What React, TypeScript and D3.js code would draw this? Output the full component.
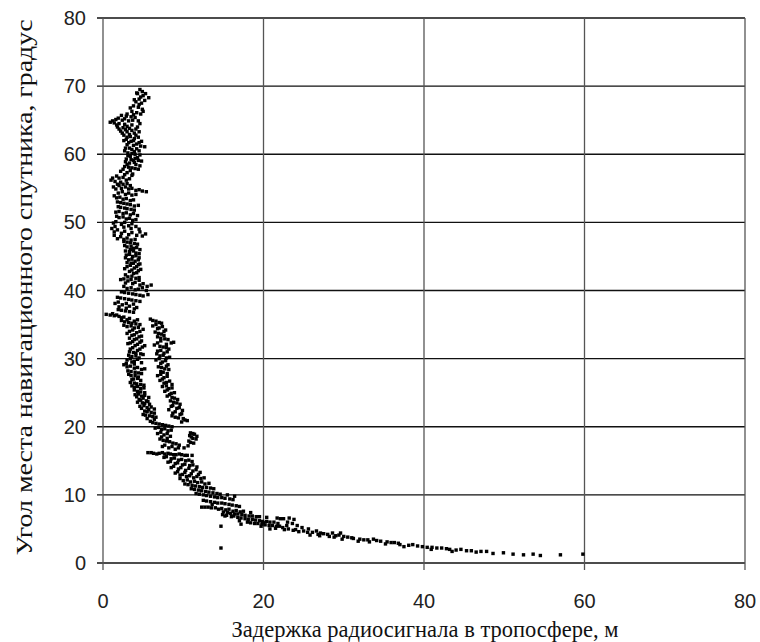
import React from "react";
import { scaleLinear } from "d3";

// Задержка (м), угол места (градус) — точки
const passHigh: [number, number][] = [
  [4.6, 69.5], [4.9, 69.2], [4.3, 68.9], [5.0, 68.6], [5.7, 68.3], [4.5, 68.1], [4.1, 67.7], [4.8, 67.5],
  [3.8, 67.1], [4.4, 66.9], [4.9, 66.6], [3.6, 66.3], [4.2, 66.1], [2.3, 65.7], [2.9, 65.6], [3.5, 65.5],
  [4.0, 65.4], [1.6, 65.1], [2.4, 65.0], [3.2, 64.9], [4.4, 64.9], [0.9, 64.7], [1.4, 64.6], [2.0, 64.5],
  [2.7, 64.4], [3.6, 64.3], [4.6, 64.5], [1.8, 64.0], [2.5, 63.9], [3.3, 63.8], [4.1, 63.7], [2.2, 63.4],
  [3.0, 63.3], [3.9, 63.1], [2.6, 62.8], [3.4, 62.6], [4.4, 62.5], [2.9, 62.2], [3.8, 62.0], [4.8, 61.9],
  [3.2, 61.7], [4.2, 61.5], [5.2, 61.1], [2.8, 60.9], [3.6, 60.7], [4.5, 60.5], [3.1, 60.2], [4.0, 60.0],
  [3.4, 59.7], [4.3, 59.5], [2.9, 59.3], [3.8, 59.1], [4.8, 59.0], [3.3, 58.7], [4.1, 58.5], [2.7, 58.2],
  [3.6, 58.0], [4.4, 57.8], [2.2, 57.5], [3.0, 57.3], [3.7, 57.1], [1.7, 56.8], [2.5, 56.6], [3.3, 56.4],
  [1.0, 56.2], [1.5, 56.0], [2.2, 55.9], [3.0, 55.7], [2.0, 55.4], [2.8, 55.2], [3.6, 55.0], [1.6, 54.9],
  [4.5, 54.8], [5.4, 54.5], [2.4, 54.5], [3.2, 54.3], [4.1, 54.1], [1.4, 53.9], [2.1, 53.7], [2.9, 53.5],
  [3.8, 53.3], [1.8, 53.0], [2.6, 52.8], [3.4, 52.6], [4.4, 52.5], [2.2, 52.2], [3.0, 52.0], [3.9, 51.8],
  [1.6, 51.5], [2.5, 51.3], [3.4, 51.1], [4.3, 51.0], [2.0, 50.7], [2.9, 50.5], [3.7, 50.3], [1.3, 49.9],
  [2.3, 49.7], [3.2, 49.5], [4.1, 49.4], [1.1, 49.1], [1.8, 48.9], [2.7, 48.7], [3.6, 48.5], [4.6, 48.6],
  [5.3, 48.3], [1.4, 48.1], [2.2, 47.9], [3.0, 47.7], [4.0, 47.5], [2.6, 47.2], [3.4, 47.0], [4.3, 46.8],
  [3.0, 46.4], [3.8, 46.2], [4.6, 46.0], [3.3, 45.7], [4.1, 45.5], [2.9, 45.2], [3.7, 45.0], [4.5, 44.8],
  [3.2, 44.5], [4.0, 44.3], [3.5, 44.0], [4.4, 43.8], [3.0, 43.5], [3.9, 43.3], [4.7, 43.1], [3.3, 42.8],
  [4.2, 42.6], [2.8, 42.3], [3.6, 42.1], [4.5, 41.9], [2.2, 41.6], [3.1, 41.4], [4.0, 41.2], [5.0, 41.0],
  [6.0, 40.8], [2.6, 40.6], [3.5, 40.4], [4.4, 40.2], [5.4, 40.0],
];

const passHigh2: [number, number][] = [
  [4.2, 69.0], [5.3, 68.9], [4.7, 68.4], [3.9, 68.0], [5.2, 67.9], [4.5, 67.3], [3.4, 66.8], [5.0, 66.3],
  [3.0, 65.9], [3.8, 65.8], [4.7, 65.9], [1.9, 65.3], [2.7, 65.2], [3.7, 65.0], [1.2, 64.9], [1.7, 64.3],
  [3.0, 64.1], [4.3, 64.0], [2.0, 63.7], [2.8, 63.6], [3.6, 63.5], [4.5, 63.3], [2.4, 63.1], [3.3, 62.9],
  [4.1, 62.8], [3.0, 62.5], [3.9, 62.3], [2.6, 62.0], [3.5, 61.9], [4.5, 61.7], [3.0, 61.4], [3.8, 61.3],
  [4.7, 61.2], [3.3, 60.9], [4.2, 60.8], [2.7, 60.5], [3.9, 60.4], [3.6, 60.1], [4.6, 59.9], [3.1, 59.8],
  [4.0, 59.4], [3.5, 59.2], [4.4, 59.1], [2.8, 58.9], [3.9, 58.8], [3.0, 58.5], [4.6, 58.3], [3.2, 58.1],
  [4.0, 57.9], [2.5, 57.8], [3.4, 57.6], [2.7, 57.0], [3.6, 56.9], [2.0, 56.5], [2.9, 56.2], [1.2, 56.5],
  [1.8, 55.6], [2.5, 55.6], [3.4, 55.4], [1.3, 55.2], [2.3, 55.0], [3.2, 54.9], [4.1, 54.7], [4.9, 54.6],
  [1.9, 54.3], [2.8, 54.1], [3.6, 54.0], [1.7, 53.6], [2.5, 53.4], [3.4, 53.2], [2.2, 52.9], [3.0, 52.7],
  [3.9, 52.4], [1.9, 52.3], [2.7, 52.1], [3.5, 51.9], [2.0, 51.6], [2.9, 51.4], [3.8, 51.3], [1.7, 50.9],
  [2.5, 50.8], [3.3, 50.6], [4.1, 50.4], [1.6, 50.1], [2.7, 50.0], [3.6, 49.8], [1.5, 49.4], [2.6, 49.3],
  [3.5, 49.1], [4.5, 49.0], [1.4, 48.6], [2.3, 48.4], [3.2, 48.2], [4.2, 48.1], [4.9, 48.0], [1.8, 47.6],
  [2.6, 47.5], [3.5, 47.4], [3.0, 47.1], [3.9, 46.9], [2.7, 46.6], [3.5, 46.5], [4.2, 46.3], [3.4, 46.0],
  [2.8, 45.8], [3.8, 45.8], [4.5, 45.4], [3.3, 45.3], [4.1, 45.1], [2.8, 44.8], [3.6, 44.6], [4.4, 44.5],
  [3.0, 44.1], [3.8, 44.0], [4.6, 43.9], [3.4, 43.7], [4.2, 43.5], [2.7, 43.2], [3.6, 43.0], [4.4, 42.9],
  [3.8, 42.5], [3.1, 42.0], [4.1, 41.8], [2.6, 41.7], [3.5, 41.6], [4.5, 41.5], [2.8, 41.1], [3.7, 41.0],
  [4.6, 40.8], [5.5, 40.6], [3.0, 40.3], [4.0, 40.1], [4.9, 40.4],
];

const passLeft: [number, number][] = [
  [2.3, 39.8], [3.2, 39.6], [4.1, 39.4], [5.0, 39.2], [1.8, 39.0], [2.7, 38.8], [3.6, 38.6], [4.6, 38.4],
  [1.5, 38.1], [2.4, 37.9], [3.3, 37.7], [4.2, 37.5], [1.9, 37.2], [2.8, 37.0], [3.8, 36.8], [0.4, 36.5],
  [0.9, 36.4], [1.4, 36.3], [2.0, 36.2], [2.6, 36.1], [3.3, 35.9], [4.3, 35.7], [2.7, 35.4], [3.6, 35.2],
  [4.6, 35.0], [3.0, 34.7], [3.9, 34.5], [5.0, 34.3], [3.3, 34.0], [4.2, 33.8], [3.6, 33.4], [4.5, 33.2],
  [3.9, 32.8], [4.8, 32.6], [3.4, 32.3], [4.3, 32.1], [5.2, 31.9], [3.7, 31.6], [4.6, 31.4], [3.3, 31.0],
  [4.1, 30.8], [5.0, 30.6], [3.6, 30.3], [4.5, 30.1], [3.0, 29.8], [3.9, 29.6], [4.8, 29.4], [2.6, 29.1],
  [3.4, 28.9], [4.3, 28.7], [5.2, 28.5], [3.1, 28.2], [4.0, 28.0], [4.8, 27.8], [3.5, 27.5], [4.4, 27.3],
  [3.8, 27.0], [4.7, 26.8], [3.4, 26.5], [4.2, 26.3], [5.1, 26.1], [3.9, 25.8], [4.7, 25.6], [4.3, 25.2],
  [5.2, 25.0], [4.0, 24.7], [4.8, 24.5], [5.7, 24.3], [4.5, 24.0], [5.4, 23.8], [4.9, 23.5], [5.8, 23.3],
  [4.6, 23.0], [5.5, 22.8], [6.4, 22.6], [5.2, 22.3], [6.0, 22.1], [5.0, 21.8], [5.8, 21.6], [6.6, 21.4],
];

const passLeft2: [number, number][] = [
  [2.7, 39.7], [3.7, 39.5], [4.6, 39.3], [5.6, 39.4], [2.2, 38.9], [3.2, 38.7], [4.1, 38.5], [1.9, 38.3],
  [2.9, 38.1], [3.8, 38.0], [2.0, 37.6], [2.9, 37.4], [3.9, 37.3], [2.3, 37.1], [3.3, 36.9], [1.2, 36.6],
  [1.7, 36.4], [2.3, 36.0], [3.0, 35.7], [3.9, 35.5], [2.3, 35.6], [3.2, 35.3], [4.1, 35.1], [2.6, 34.9],
  [3.5, 34.8], [4.4, 34.6], [3.7, 34.2], [4.6, 34.0], [3.0, 33.7], [3.9, 33.5], [4.8, 33.3], [3.3, 33.0],
  [4.2, 32.9], [3.7, 32.5], [4.6, 32.4], [3.1, 32.2], [4.0, 31.9], [4.9, 31.7], [3.4, 31.4], [4.3, 31.2],
  [3.8, 30.9], [4.7, 30.7], [3.2, 30.5], [4.1, 30.4], [3.4, 30.0], [4.3, 29.9], [3.6, 29.5], [2.9, 29.3],
  [3.9, 29.2], [3.0, 28.8], [3.9, 28.6], [4.8, 28.4], [3.5, 28.1], [4.4, 27.9], [3.2, 27.7], [4.0, 27.5],
  [4.3, 27.1], [3.6, 26.9], [3.9, 26.4], [4.7, 26.2], [3.6, 26.0], [4.3, 25.9], [5.1, 25.7], [3.9, 25.4],
  [4.7, 25.1], [4.4, 24.8], [5.2, 24.6], [4.2, 24.4], [5.0, 24.2], [4.7, 23.9], [5.6, 23.7], [4.3, 23.6],
  [5.2, 23.4], [5.1, 23.1], [6.0, 22.9], [4.8, 22.7], [5.7, 22.5], [5.5, 22.2], [6.4, 22.0], [5.3, 21.7],
  [6.2, 21.5], [5.5, 21.2], [6.4, 21.1],
];

const passRight: [number, number][] = [
  [5.9, 35.8], [6.6, 35.5], [7.3, 35.2], [6.2, 34.8], [7.0, 34.5], [7.8, 34.2], [6.5, 33.9], [7.3, 33.6],
  [6.8, 33.2], [7.7, 32.9], [8.5, 32.3], [7.2, 32.6], [6.4, 32.0], [7.5, 31.7], [8.2, 31.4], [6.8, 31.1],
  [7.6, 30.8], [7.1, 30.4], [7.9, 30.1], [6.6, 29.8], [7.4, 29.5], [8.1, 29.1], [6.9, 28.8], [7.7, 28.5],
  [7.2, 28.1], [8.0, 27.8], [6.8, 27.5], [7.6, 27.2], [7.1, 26.8], [7.9, 26.5], [8.6, 26.2], [7.4, 25.9],
  [8.2, 25.6], [7.7, 25.2], [8.5, 24.9], [8.0, 24.5], [8.9, 24.2], [8.4, 23.8], [9.2, 23.5], [8.7, 23.1],
  [9.5, 22.8], [8.2, 22.5], [9.0, 22.2], [9.8, 21.9], [8.6, 21.6], [9.4, 21.3], [10.2, 21.0], [9.8, 20.7],
];

const passRight2: [number, number][] = [
  [6.2, 35.6], [7.0, 35.3], [6.6, 35.0], [7.4, 34.7], [6.8, 34.4], [7.6, 34.0], [6.9, 33.7], [7.6, 33.4],
  [7.2, 33.0], [8.1, 32.8], [8.8, 32.4], [6.8, 32.3], [7.9, 32.1], [7.1, 31.8], [7.9, 31.6], [7.2, 31.2],
  [8.0, 31.0], [6.7, 30.7], [7.5, 30.5], [8.3, 30.2], [7.0, 30.0], [7.8, 29.7], [7.2, 29.3], [7.9, 28.9],
  [7.3, 28.7], [8.2, 28.4], [7.5, 28.0], [7.2, 27.7], [8.0, 27.4], [7.4, 27.0], [8.3, 26.7], [7.6, 26.4],
  [7.9, 26.0], [8.6, 25.7], [8.0, 25.4], [8.9, 25.0], [8.3, 24.7], [8.6, 24.3], [9.3, 24.0], [8.8, 23.6],
  [9.6, 23.3], [8.5, 23.0], [9.2, 22.7], [9.9, 22.4], [8.7, 22.0], [9.6, 21.8], [9.0, 21.4], [10.0, 21.2],
  [10.5, 20.9],
];

const passMid: [number, number][] = [
  [6.2, 20.6], [7.0, 20.4], [7.8, 20.2], [8.6, 20.0], [6.5, 19.8], [7.3, 19.6], [8.1, 19.4], [6.8, 19.0],
  [7.6, 18.8], [8.4, 18.6], [10.9, 19.1], [11.4, 18.9], [11.0, 18.5], [11.6, 18.2], [10.7, 17.9], [11.3, 17.6],
  [7.1, 18.2], [7.9, 17.9], [8.7, 17.6], [9.5, 17.3], [7.4, 17.1], [8.2, 16.9], [9.0, 16.7], [10.1, 16.9],
  [10.6, 17.2], [5.6, 16.2], [6.3, 16.1], [7.0, 16.1], [7.7, 16.0], [8.4, 16.0], [9.1, 15.9], [9.8, 15.9],
  [10.5, 15.8], [11.1, 15.8], [7.6, 15.5], [8.5, 15.3], [9.4, 15.1], [10.3, 15.0], [11.1, 14.9], [8.1, 14.8],
  [9.0, 14.6], [9.9, 14.4], [10.8, 14.3], [11.7, 14.1], [8.5, 14.0], [9.4, 13.8], [10.3, 13.6], [11.2, 13.5],
  [12.1, 13.3], [9.0, 13.2], [9.9, 13.0], [10.8, 12.8], [11.7, 12.7], [12.6, 12.5], [9.6, 12.4], [10.5, 12.2],
  [11.4, 12.0], [12.3, 11.9], [13.2, 11.7], [10.2, 11.6], [11.1, 11.4], [12.0, 11.2], [12.9, 11.1], [13.8, 10.9],
  [11.0, 10.9], [11.9, 10.7], [12.8, 10.5], [13.7, 10.3], [14.6, 10.1], [11.6, 10.2], [12.5, 10.0], [13.4, 9.8],
  [14.3, 9.6], [15.2, 9.5], [16.2, 9.3], [15.5, 10.0], [16.4, 9.8],
];

const passMid2: [number, number][] = [
  [5.9, 20.8], [6.6, 20.5], [7.4, 20.3], [8.2, 20.1], [6.9, 19.9], [7.7, 19.7], [8.5, 19.5], [7.2, 19.2],
  [8.0, 19.0], [7.3, 18.5], [8.0, 18.3], [11.2, 19.0], [10.8, 18.7], [11.7, 18.6], [11.2, 18.3], [10.9, 17.7],
  [7.5, 18.0], [8.3, 17.8], [9.1, 17.5], [7.7, 17.3], [8.6, 17.1], [9.4, 16.9], [6.0, 16.2], [6.7, 16.0],
  [7.4, 16.2], [8.1, 16.1], [8.8, 15.9], [9.5, 16.0], [10.2, 15.8], [7.9, 15.6], [8.9, 15.4], [9.8, 15.2],
  [10.7, 15.1], [8.4, 14.9], [9.3, 14.7], [10.2, 14.5], [11.2, 14.4], [8.8, 14.2], [9.7, 14.0], [10.7, 13.9],
  [11.6, 13.7], [9.3, 13.4], [10.2, 13.3], [11.0, 13.1], [11.9, 13.0], [9.6, 12.9], [10.4, 12.7], [11.3, 12.5],
  [12.2, 12.4], [10.0, 12.1], [10.9, 11.9], [11.8, 11.8], [12.7, 11.6], [10.6, 11.5], [11.5, 11.3], [12.4, 11.1],
  [13.4, 11.0], [11.4, 10.8], [12.3, 10.6], [13.2, 10.4], [14.2, 10.2], [12.0, 10.1], [12.9, 9.9], [13.9, 9.7],
  [14.8, 9.6], [15.8, 9.4],
];

const passLow: [number, number][] = [
  [12.5, 9.2], [13.4, 9.0], [14.3, 8.8], [15.2, 8.7], [16.1, 8.5], [17.0, 8.3], [12.3, 8.2], [13.1, 8.2],
  [14.0, 8.1], [13.6, 8.6], [14.8, 8.0], [15.7, 7.9], [16.6, 7.7], [17.5, 7.6], [18.4, 7.4], [15.0, 7.5],
  [15.9, 7.3], [16.8, 7.2], [17.7, 7.0], [18.6, 6.9], [19.5, 6.8], [20.4, 6.7], [17.2, 6.6], [18.1, 6.4],
  [19.0, 6.3], [19.9, 6.1], [20.8, 6.0], [21.7, 6.6], [22.5, 6.5], [23.2, 6.6], [23.8, 6.4], [18.4, 5.9],
  [19.3, 5.8], [20.2, 5.6], [21.1, 5.5], [22.0, 5.4], [22.9, 5.5], [21.5, 5.1], [22.6, 4.9], [23.7, 4.8],
  [24.8, 5.2], [24.4, 4.6], [25.5, 4.5], [26.6, 4.7], [27.5, 4.3], [28.6, 4.4], [25.8, 4.1], [27.0, 4.0],
  [28.2, 3.9], [29.4, 4.1], [30.5, 3.8], [29.8, 3.5], [31.2, 3.6], [32.5, 3.4], [33.7, 3.5], [31.8, 3.2],
  [33.2, 3.1], [34.6, 3.2], [35.9, 3.0], [35.2, 2.8], [36.8, 2.9], [38.1, 2.6], [37.5, 2.4], [39.2, 2.5],
  [40.4, 2.3], [41.6, 2.2], [40.9, 2.0], [42.8, 2.1], [44.0, 1.9], [45.3, 1.8], [43.5, 1.7], [46.5, 1.6],
  [47.8, 1.7], [48.6, 1.4], [49.9, 1.5], [51.1, 1.3], [52.4, 1.2], [53.6, 1.3], [54.5, 1.1], [57.0, 1.2],
  [59.8, 1.3],
];

const passLow2: [number, number][] = [
  [12.9, 9.1], [13.9, 8.9], [14.8, 8.8], [15.7, 8.6], [16.6, 8.4], [12.7, 8.2], [13.5, 8.1], [14.4, 7.9],
  [15.3, 7.8], [16.2, 7.6], [17.1, 7.5], [15.5, 7.4], [16.4, 7.2], [17.3, 7.1], [18.2, 6.9], [19.1, 6.8],
  [16.8, 6.7], [17.7, 6.5], [18.6, 6.4], [19.5, 6.2], [20.4, 6.1], [21.3, 6.0], [22.1, 6.5], [18.9, 5.8],
  [19.8, 5.7], [20.7, 5.5], [21.6, 5.4], [22.4, 5.2], [23.1, 5.0], [24.0, 4.9], [25.0, 4.7], [26.1, 4.5],
  [27.1, 4.4], [28.0, 4.2], [29.0, 4.0], [30.0, 3.9], [31.0, 3.7], [32.0, 3.5], [33.0, 3.4], [34.1, 3.3],
  [35.4, 3.1], [36.3, 3.0], [37.0, 2.7], [38.6, 2.7], [39.8, 2.4], [41.0, 2.3], [42.2, 2.2], [43.2, 2.0],
  [44.6, 2.0], [45.9, 1.8], [47.1, 1.7],
];

const passLow3: [number, number][] = [
  [15.2, 6.9], [16.0, 6.8], [14.9, 7.1], [15.4, 7.0], [16.3, 6.9], [17.0, 6.2], [18.0, 6.0], [19.7, 5.4],
  [20.8, 5.0], [23.0, 6.0], [23.6, 5.8], [24.2, 5.5], [25.6, 5.0], [26.8, 4.2], [28.8, 3.8], [29.6, 4.4],
  [20.0, 5.9], [21.8, 5.8],
];

const outliers: [number, number][] = [[14.7, 5.4], [17.2, 5.7], [14.7, 2.2]];

const xTicks = [0, 20, 40, 60, 80];
const yTicks = [0, 10, 20, 30, 40, 50, 60, 70, 80];

const xTitle = "Задержка радиосигнала в тропосфере, м";
const yTitle = "Угол места навигационного спутника, градус";

export default function App() {
  const width = 760;
  const height = 642;
  const margin = { top: 18, right: 15, bottom: 79, left: 103 };

  const x = scaleLinear().domain([0, 80]).range([margin.left, width - margin.right]);
  const y = scaleLinear().domain([0, 80]).range([height - margin.bottom, margin.top]);

  const points = [
    ...passHigh, ...passHigh2, ...passLeft, ...passLeft2, ...passRight, ...passRight2,
    ...passMid, ...passMid2, ...passLow, ...passLow2, ...passLow3, ...outliers,
  ];
  const x0 = x(0);
  const y0 = y(0);

  return (
    <svg
      width={width}
      height={height}
      style={{ position: "absolute", left: 0, top: 0, background: "#fff" }}
    >
      {/* сетка */}
      {yTicks.map((t) => (
        <line key={`gy${t}`} x1={x0 - 6} x2={x(80)} y1={y(t)} y2={y(t)} stroke="#111" strokeWidth={1.3} />
      ))}
      {xTicks.map((t) => (
        <line key={`gx${t}`} x1={x(t)} x2={x(t)} y1={y(80)} y2={y0 + 7} stroke="#555" strokeWidth={1.3} />
      ))}

      {/* точки */}
      {points.map(([d, e], i) => (
        <rect key={i} x={x(d) - 1.7} y={y(e) - 1.7} width={3.4} height={3.4} fill="#000" />
      ))}

      {/* подписи делений */}
      {yTicks.map((t) => (
        <text
          key={`ly${t}`}
          x={x0 - 17}
          y={y(t) + 7}
          textAnchor="end"
          fontFamily="Liberation Sans, Arial, sans-serif"
          fontSize={20}
          fill="#222"
        >
          {t}
        </text>
      ))}
      {xTicks.map((t) => (
        <text
          key={`lx${t}`}
          x={x(t)}
          y={y0 + 45}
          textAnchor="middle"
          fontFamily="Liberation Sans, Arial, sans-serif"
          fontSize={20}
          fill="#222"
        >
          {t}
        </text>
      ))}

      {/* названия осей */}
      <text
        x={(x(0) + x(80)) / 2 + 1}
        y={637}
        textAnchor="middle"
        fontFamily="Liberation Serif, Times New Roman, serif"
        fontSize={22.5}
        fill="#111"
      >
        {xTitle}
      </text>
      <text
        transform={`translate(32, ${(y(0) + y(80)) / 2 - 3}) rotate(-90)`}
        textAnchor="middle"
        fontFamily="Liberation Serif, Times New Roman, serif"
        fontSize={24}
        fill="#111"
        textLength={536}
        lengthAdjust="spacingAndGlyphs"
      >
        {yTitle}
      </text>
    </svg>
  );
}
